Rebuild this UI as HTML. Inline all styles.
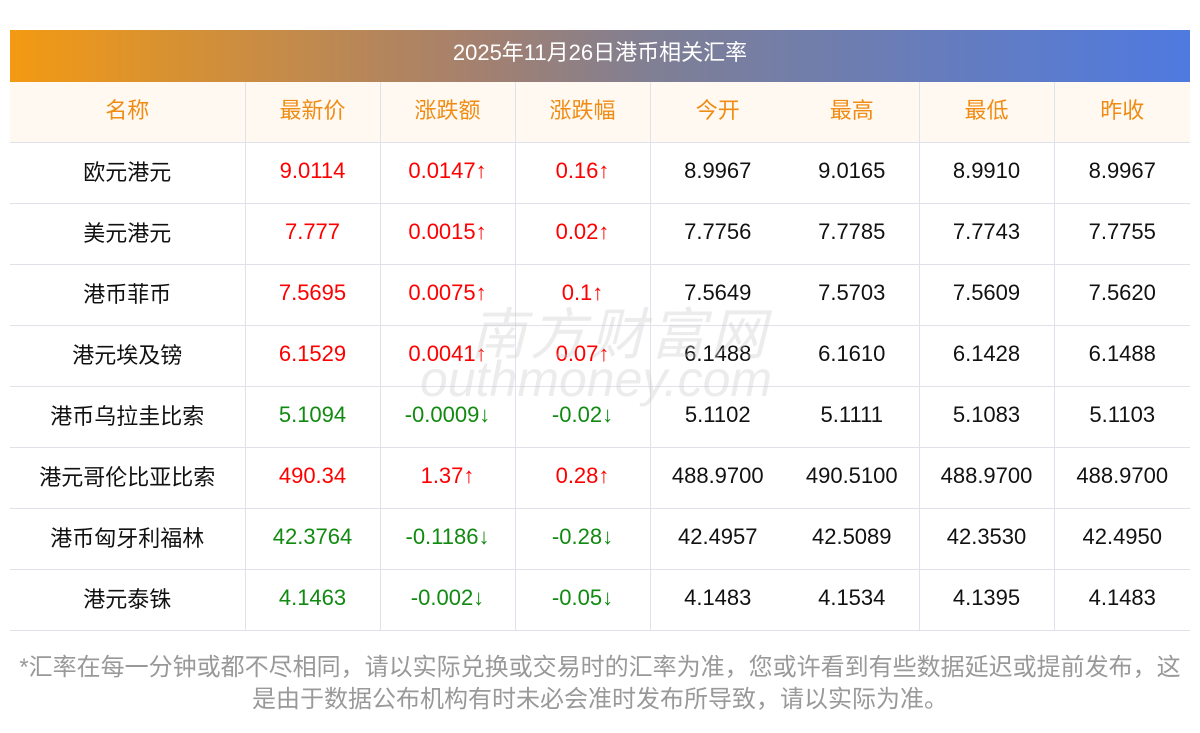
<!DOCTYPE html>
<html><head><meta charset="utf-8"><style>
body{margin:0;width:1200px;height:733px;background:#fff;font-family:"Liberation Sans","Noto Sans CJK SC",sans-serif;position:relative;overflow:hidden}
.bar{position:absolute;left:10px;top:30px;width:1180px;height:52px;background:linear-gradient(90deg,#f39a12 0%,#a38070 40%,#7f7f95 55%,#4f7ae0 100%);color:#fff;font-size:22px;text-align:center;line-height:46px}
table{position:absolute;left:10px;top:82px;width:1180px;border-collapse:collapse;table-layout:fixed}
td,th{text-align:center;font-size:22px;font-weight:normal;padding:0;border-bottom:1px solid #dfe2ea}
th{height:60px;background:#fff9f2;color:#f08c14;padding-bottom:6px;height:54px}
td{height:56px;padding-bottom:4px;color:#111}
.b{border-right:1px solid #dfe2ea}
.r{color:#f00}.g{color:#118a11}
.note{position:absolute;left:0;top:652px;width:1200px;text-align:center;font-size:24px;color:#999;line-height:32px;white-space:nowrap}
.wm{position:absolute;color:rgba(200,200,200,0.35);font-style:italic}
</style></head><body>
<div class="bar">2025年11月26日港币相关汇率</div>
<table>
<colgroup><col style="width:235px"><col style="width:135px"><col style="width:135px"><col style="width:135px"><col style="width:135px"><col style="width:134px"><col style="width:135px"><col style="width:136px"></colgroup>
<tr><th class="b">名称</th><th class="b">最新价</th><th class="b">涨跌额</th><th class="b">涨跌幅</th><th>今开</th><th class="b">最高</th><th class="b">最低</th><th>昨收</th></tr>
<tr><td class="b">欧元港元</td><td class="b r">9.0114</td><td class="b r">0.0147↑</td><td class="b r">0.16↑</td><td>8.9967</td><td class="b">9.0165</td><td class="b">8.9910</td><td>8.9967</td></tr>
<tr><td class="b">美元港元</td><td class="b r">7.777</td><td class="b r">0.0015↑</td><td class="b r">0.02↑</td><td>7.7756</td><td class="b">7.7785</td><td class="b">7.7743</td><td>7.7755</td></tr>
<tr><td class="b">港币菲币</td><td class="b r">7.5695</td><td class="b r">0.0075↑</td><td class="b r">0.1↑</td><td>7.5649</td><td class="b">7.5703</td><td class="b">7.5609</td><td>7.5620</td></tr>
<tr><td class="b">港元埃及镑</td><td class="b r">6.1529</td><td class="b r">0.0041↑</td><td class="b r">0.07↑</td><td>6.1488</td><td class="b">6.1610</td><td class="b">6.1428</td><td>6.1488</td></tr>
<tr><td class="b">港币乌拉圭比索</td><td class="b g">5.1094</td><td class="b g">-0.0009↓</td><td class="b g">-0.02↓</td><td>5.1102</td><td class="b">5.1111</td><td class="b">5.1083</td><td>5.1103</td></tr>
<tr><td class="b">港元哥伦比亚比索</td><td class="b r">490.34</td><td class="b r">1.37↑</td><td class="b r">0.28↑</td><td>488.9700</td><td class="b">490.5100</td><td class="b">488.9700</td><td>488.9700</td></tr>
<tr><td class="b">港币匈牙利福林</td><td class="b g">42.3764</td><td class="b g">-0.1186↓</td><td class="b g">-0.28↓</td><td>42.4957</td><td class="b">42.5089</td><td class="b">42.3530</td><td>42.4950</td></tr>
<tr><td class="b">港元泰铢</td><td class="b g">4.1463</td><td class="b g">-0.002↓</td><td class="b g">-0.05↓</td><td>4.1483</td><td class="b">4.1534</td><td class="b">4.1395</td><td>4.1483</td></tr>
</table>
<div class="wm" style="left:470px;top:290px;font-size:56px;letter-spacing:4px">南方财富网</div>
<div class="wm" style="left:420px;top:350px;font-size:50px">outhmoney.com</div>
<div class="note">*汇率在每一分钟或都不尽相同，请以实际兑换或交易时的汇率为准，您或许看到有些数据延迟或提前发布，这<br>是由于数据公布机构有时未必会准时发布所导致，请以实际为准。</div>
</body></html>
